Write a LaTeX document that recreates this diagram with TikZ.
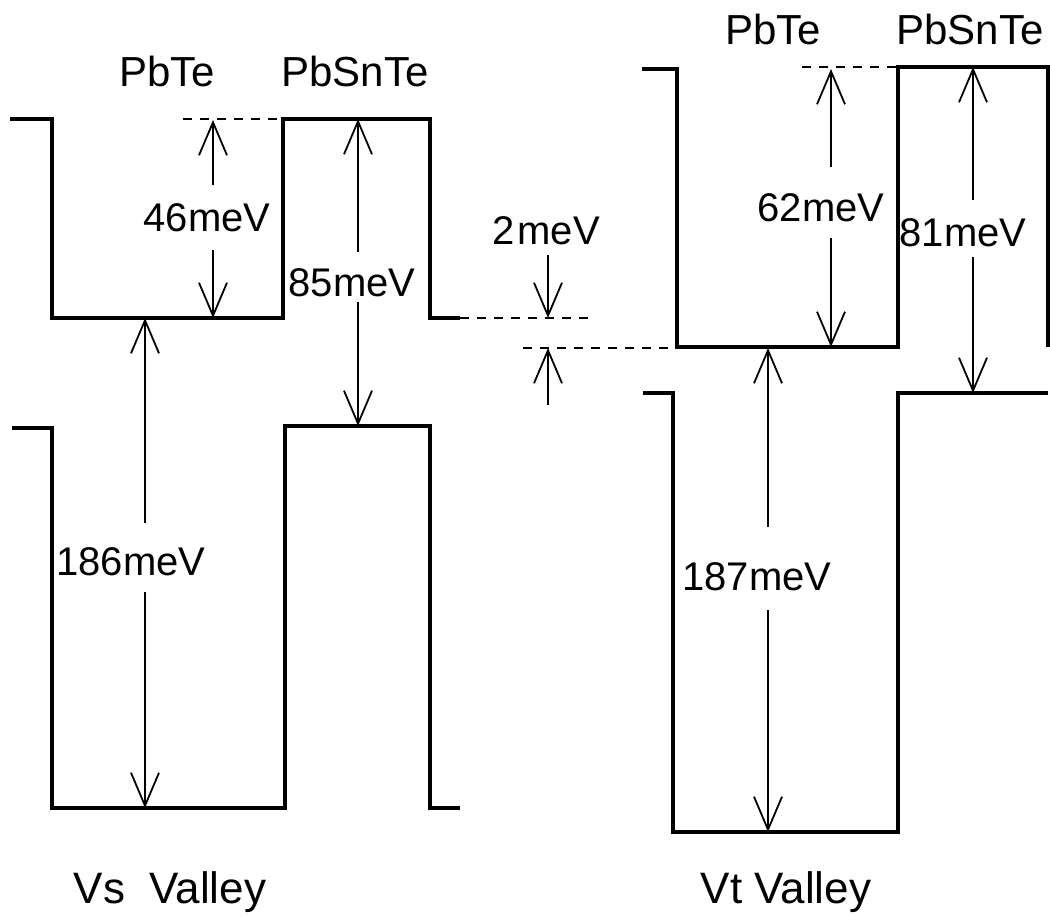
\documentclass[tikz,border=0pt]{standalone}
\usepackage{fontspec}
\setmainfont{Liberation Sans}
\usetikzlibrary{arrows.meta}
\begin{document}
\begin{tikzpicture}[x=1pt,y=-1pt,
  band/.style={line width=3.4pt, line join=miter},
  dashlevel/.style={line width=2.8pt, dash pattern=on 9pt off 8pt},
  arr/.style={line width=1.8pt, -{Straight Barb[length=33pt,width=28pt]}},
  lab/.style={anchor=base, inner sep=0pt, font=\fontsize{40}{44}\selectfont},
  mlab/.style={anchor=base, inner sep=0pt, font=\fontsize{42}{46}\selectfont},
  vlab/.style={anchor=base, inner sep=0pt, font=\fontsize{44}{48}\selectfont}]
\useasboundingbox (0,0) rectangle (1050,917);

% ---------- Vs valley ----------
\draw[band] (10,119) -- (52,119) -- (52,318) -- (283,318) -- (283,119) -- (430,119) -- (430,318) -- (460,318);
\draw[band] (12,428) -- (52,428) -- (52,808) -- (285,808) -- (285,426) -- (430,426) -- (430,808) -- (460,808);
\draw[dashlevel] (183,119) -- (283,119);

\node[mlab] (pbteL) at (167,87) {PbTe};
\node[mlab] (pbsnteL) at (355,87) {PbSnTe};
\node[lab] (t46) at (207,232) {46meV};
\node[lab] (t85) at (352,297) {85meV};
\node[lab] (t186) at (131,575) {186meV};
\node[vlab] (vs) at (170,903) {Vs\ \ Valley};

\coordinate (a46t) at (213,120); \coordinate (a46s1) at (213,185);
\coordinate (a46b) at (213,318); \coordinate (a46s2) at (213,250);
\draw[arr] (a46s1) -- (a46t);
\draw[arr] (a46s2) -- (a46b);

\coordinate (a85t) at (358,119); \coordinate (a85s1) at (358,252);
\coordinate (a85b) at (358,426); \coordinate (a85s2) at (358,302);
\draw[arr] (a85s1) -- (a85t);
\draw[arr] (a85s2) -- (a85b);

\coordinate (a186t) at (145,318); \coordinate (a186s1) at (145,523);
\coordinate (a186b) at (145,808); \coordinate (a186s2) at (145,592);
\draw[arr] (a186s1) -- (a186t);
\draw[arr] (a186s2) -- (a186b);

% ---------- middle offset ----------
\draw[dashlevel] (460,318) -- (590,318);
\draw[dashlevel] (523,348) -- (677,348);
\node[lab] (t2) at (546,245) {2\kern3pt meV};
\coordinate (a2t) at (548,318); \coordinate (a2s1) at (548,255);
\coordinate (a2b) at (548,348); \coordinate (a2s2) at (548,405);
\draw[arr] (a2s1) -- (a2t);
\draw[arr] (a2s2) -- (a2b);

% ---------- Vt valley ----------
\draw[band] (642,69) -- (677,69) -- (677,347) -- (898,347) -- (898,67) -- (1048,67) -- (1048,347);
\draw[band] (643,393) -- (673,393) -- (673,832) -- (898,832) -- (898,393) -- (1048,393);
\draw[dashlevel] (802,67) -- (898,67);

\node[mlab] (pbteR) at (773,45) {PbTe};
\node[mlab] (pbsnteR) at (970,45) {PbSnTe};
\node[lab] (t62) at (821,222) {62meV};
\node[lab] (t81) at (963,247) {81meV};
\node[lab] (t187) at (757,590) {187meV};
\node[vlab] (vt) at (786,903) {Vt Valley};

\coordinate (a62t) at (831,69); \coordinate (a62s1) at (831,167);
\coordinate (a62b) at (831,347); \coordinate (a62s2) at (831,238);
\draw[arr] (a62s1) -- (a62t);
\draw[arr] (a62s2) -- (a62b);

\coordinate (a81t) at (973,67); \coordinate (a81s1) at (973,200);
\coordinate (a81b) at (973,393); \coordinate (a81s2) at (973,257);
\draw[arr] (a81s1) -- (a81t);
\draw[arr] (a81s2) -- (a81b);

\coordinate (a187t) at (768,348); \coordinate (a187s1) at (768,527);
\coordinate (a187b) at (768,832); \coordinate (a187s2) at (768,610);
\draw[arr] (a187s1) -- (a187t);
\draw[arr] (a187s2) -- (a187b);
\end{tikzpicture}
\end{document}
